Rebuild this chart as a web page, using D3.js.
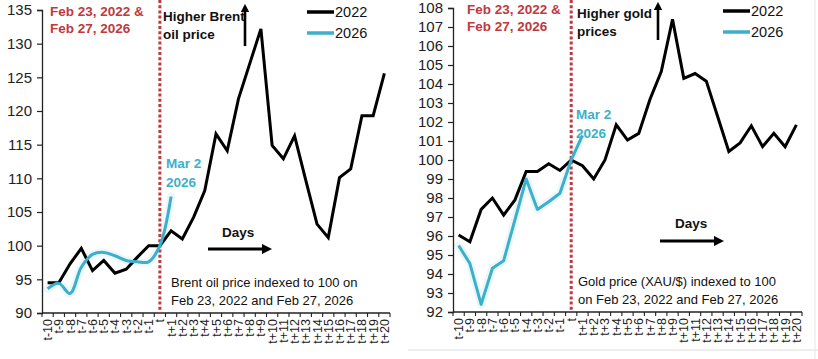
<!DOCTYPE html>
<html><head><meta charset="utf-8">
<script src="https://cdn.jsdelivr.net/npm/d3@7"></script>
<style>
html,body{margin:0;padding:0;background:#fff;}
svg{display:block;font-family:"Liberation Sans",Arial,sans-serif;}
</style></head>
<body>
<svg id="chart" width="818" height="359"></svg>
<script>
// ---- data ----
const categories = ["t-10","t-9","t-8","t-7","t-6","t-5","t-4","t-3","t-2","t-1","t",
  "t+1","t+2","t+3","t+4","t+5","t+6","t+7","t+8","t+9","t+10",
  "t+11","t+12","t+13","t+14","t+15","t+16","t+17","t+18","t+19","t+20"];
const brent2022 = [94.5,94.5,97.3,99.6,96.3,97.8,95.9,96.5,98.3,100.0,100,
  102.2,101.0,104.2,108.2,116.6,114.1,121.8,127.0,132.2,114.9,
  112.9,116.3,109.7,103.2,101.2,110.1,111.4,119.3,119.3,125.6];
const brent2026 = [93.6,94.4,92.9,96.8,98.7,99.0,98.5,97.8,97.6,97.6,100,107.3];
const gold2022 = [96.05,95.7,97.4,98.0,97.1,97.9,99.4,99.4,99.8,99.45,100,
  99.7,99.0,100.0,101.85,101.05,101.4,103.2,104.65,107.4,104.3,
  104.55,104.15,102.3,100.45,100.9,101.8,100.7,101.4,100.7,101.85];
const gold2026 = [95.5,94.55,92.4,94.3,94.7,96.85,99.0,97.4,97.8,98.25,100,101.3];
const brentTicks = [90,95,100,105,110,115,120,125,130,135];
const goldTicks = [92,93,94,95,96,97,98,99,100,101,102,103,104,105,106,107,108];
const seriesNames = ["2022","2026"];

const BLACK = "#000", BLUE = "#3cb0cb", RED = "#c0393d";
const svg = d3.select("#chart");
svg.append("rect").attr("width",818).attr("height",359).attr("fill","#fff");

const defs = svg.append("defs");
defs.append("marker").attr("id","arrowHead").attr("viewBox","0 0 10 10").attr("refX",5).attr("refY",5)
  .attr("markerWidth",3.2).attr("markerHeight",3.2).attr("orient","auto")
  .append("path").attr("d","M0,0 L10,5 L0,10 z").attr("fill","#000");

function panel(cfg){
  const g = svg.append("g");
  const x = d3.scaleBand().domain(categories).range([cfg.x0,cfg.x1]).padding(0);
  const y = d3.scaleLinear().domain(cfg.domain).range([cfg.yb,cfg.yt]);
  const cx = c => x(c) + x.bandwidth()/2;

  // y axis
  const ya = g.append("g").attr("transform",`translate(${cfg.x0},0)`)
    .call(d3.axisLeft(y).tickValues(cfg.ticks).tickSize(5).tickPadding(5).tickFormat(d3.format("d")));
  ya.select(".domain").attr("stroke","#222").attr("stroke-width",1.3);
  ya.selectAll(".tick line").attr("stroke","#222").attr("stroke-width",1.2);
  ya.selectAll("text").attr("font-size",15).attr("fill","#222").attr("font-family","Liberation Sans, Arial");

  // x axis (category boundary ticks)
  const xa = g.append("g").attr("transform",`translate(0,${cfg.yb})`);
  xa.append("line").attr("x1",cfg.x0).attr("x2",cfg.x1).attr("stroke","#222").attr("stroke-width",1.3);
  const bounds = categories.map(c=>x(c)).concat([cfg.x1]);
  xa.selectAll("line.tk").data(bounds).join("line").attr("class","tk")
    .attr("x1",d=>d).attr("x2",d=>d).attr("y1",0).attr("y2",4).attr("stroke","#222").attr("stroke-width",1.1);
  xa.selectAll("text").data(categories).join("text")
    .attr("transform",d=>`translate(${cx(d)+4.5},6) rotate(-90)`)
    .attr("text-anchor","end").attr("font-size",12.5).attr("fill","#222").text(d=>d);

  // dotted vertical line at t
  g.append("line").attr("x1",cx("t")).attr("x2",cx("t")).attr("y1",0).attr("y2",cfg.yb)
    .attr("stroke",RED).attr("stroke-width",3).attr("stroke-dasharray","3,2.2");

  // series
  const cats26 = categories.slice(0,cfg.s2026.length);
  const line = d3.line().x(d=>cx(d[0])).y(d=>y(d[1]));
  const d22 = categories.map((c,i)=>[c,cfg.s2022[i]]);
  const d26 = cats26.map((c,i)=>[c,cfg.s2026[i]]);
  const l26 = cfg.smooth ? d3.line().x(d=>cx(d[0])).y(d=>y(d[1])).curve(d3.curveCatmullRom.alpha(0.5)) : line;
  g.append("path").attr("d",l26(d26)).attr("fill","none").attr("stroke",BLUE).attr("stroke-opacity",0.1)
    .attr("stroke-width",8).attr("stroke-linejoin","round").attr("stroke-linecap","round");
  g.append("path").attr("d",line(d22)).attr("fill","none").attr("stroke",BLACK).attr("stroke-width",3)
    .attr("stroke-linejoin","miter");
  g.append("path").attr("d",l26(d26)).attr("fill","none").attr("stroke",BLUE).attr("stroke-width",3)
    .attr("stroke-linejoin","round");

  // legend
  const lg = g.append("g");
  seriesNames.forEach((n,i)=>{
    const ly = cfg.legY + i*21;
    lg.append("line").attr("x1",cfg.legX).attr("x2",cfg.legX+27).attr("y1",ly).attr("y2",ly)
      .attr("stroke",i?BLUE:BLACK).attr("stroke-width",3.5);
    lg.append("text").attr("x",cfg.legX+28).attr("y",ly+5).attr("font-size",14.5).attr("fill","#111").text(n);
  });

  // annotations
  const bold = (t,xx,yy,col,fs=13.5)=>g.append("text").attr("x",xx).attr("y",yy).attr("font-size",fs)
    .attr("font-weight","bold").attr("fill",col).text(t);
  bold("Feb 23, 2022 &",cfg.dateX,cfg.dateY,RED);
  bold("Feb 27, 2026",cfg.dateX,cfg.dateY+17,RED);
  bold(cfg.higher[0],cfg.higherX,cfg.higherY,"#111");
  bold(cfg.higher[1],cfg.higherX,cfg.higherY+18,"#111");
  bold("Mar 2",cfg.marX,cfg.marY,BLUE);
  bold("2026",cfg.marX,cfg.marY+19,BLUE);
  bold("Days",cfg.daysX,cfg.daysY,"#111");
  // up arrow
  g.append("line").attr("x1",cfg.upX).attr("x2",cfg.upX).attr("y1",cfg.upY1).attr("y2",cfg.upY0+6)
    .attr("stroke","#000").attr("stroke-width",2.6).attr("marker-end","url(#arrowHead)");
  // right arrow
  g.append("line").attr("x1",cfg.rX0).attr("x2",cfg.rX1-6).attr("y1",cfg.rY).attr("y2",cfg.rY)
    .attr("stroke","#000").attr("stroke-width",3.2).attr("marker-end","url(#arrowHead)");
  // note
  cfg.note.forEach((t,i)=>g.append("text").attr("x",cfg.noteX).attr("y",cfg.noteY+i*18)
    .attr("font-size",13).attr("fill","#111").text(t));
}

panel({x0:42,x1:390,yt:10,yb:313,domain:[90,135],ticks:brentTicks,
  s2022:brent2022,s2026:brent2026,smooth:true,
  legX:307,legY:12,dateX:50,dateY:16,higher:["Higher Brent","oil price"],higherX:163,higherY:21,
  marX:166,marY:168,daysX:222,daysY:237,upX:245,upY0:2,upY1:46,rX0:208,rX1:273,rY:249,
  note:["Brent oil price indexed to 100 on","Feb 23, 2022 and Feb 27, 2026"],noteX:171,noteY:287});

panel({x0:453,x1:802,yt:8,yb:312,domain:[92,108],ticks:goldTicks,
  s2022:gold2022,s2026:gold2026,smooth:false,
  legX:723,legY:11,dateX:467,dateY:14,higher:["Higher gold","prices"],higherX:577,higherY:18,
  marX:576,marY:119,daysX:675,daysY:228,upX:658,upY0:0,upY1:40,rX0:660,rX1:725,rY:241,
  note:["Gold price (XAU/$) indexed to 100","on Feb 23, 2022 and Feb 27, 2026"],noteX:578,noteY:286});

// faint frame artefacts of the pasted image
svg.append("line").attr("x1",408).attr("x2",818).attr("y1",350).attr("y2",350).attr("stroke","#ddd").attr("stroke-width",1);
svg.append("line").attr("x1",815).attr("x2",815).attr("y1",0).attr("y2",359).attr("stroke","#e6e6e6").attr("stroke-width",1);
</script>
</body></html>
